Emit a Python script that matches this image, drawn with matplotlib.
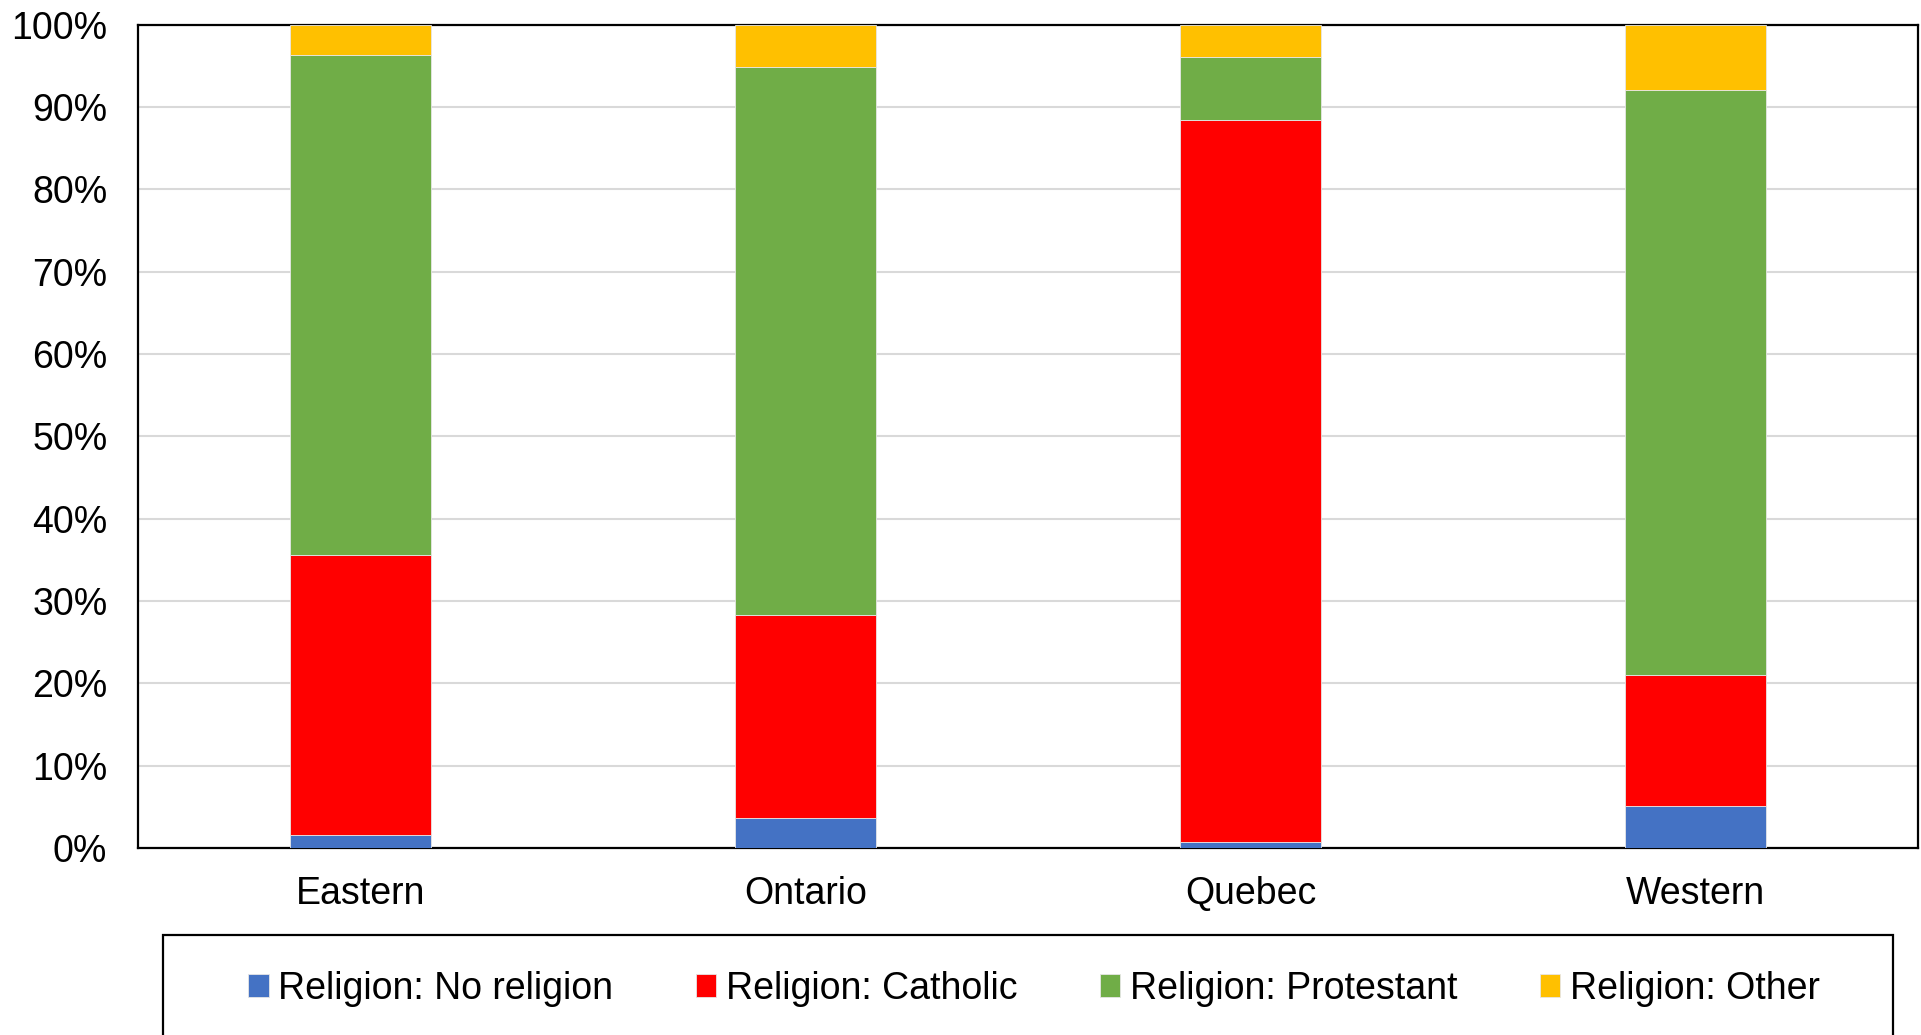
import matplotlib
matplotlib.use('Agg')
import matplotlib.pyplot as plt
from matplotlib.patches import Rectangle
from matplotlib.ticker import PercentFormatter

plt.rcParams['font.family'] = ['Liberation Sans', 'DejaVu Sans']

regions = ['Eastern', 'Ontario', 'Quebec', 'Western']
no_religion = [1.6, 3.6, 0.7, 5.1]
catholic = [34.0, 24.7, 87.7, 15.9]
protestant = [60.7, 66.5, 7.6, 71.0]
other = [3.7, 5.2, 4.0, 8.0]

series = [
    ('Religion: No religion', no_religion, '#4472C4'),
    ('Religion: Catholic', catholic, '#FF0000'),
    ('Religion: Protestant', protestant, '#70AD47'),
    ('Religion: Other', other, '#FFC000'),
]

fig = plt.figure(figsize=(19.21, 10.35), dpi=100)
ax = fig.add_axes([0.0718, 0.1807, 0.9266, 0.7956])

x = range(len(regions))
bottom = [0.0] * len(regions)
for label, vals, color in series:
    ax.bar(x, vals, width=0.317, bottom=bottom, color=color, label=label,
           edgecolor='#e6e6e6', linewidth=0.6, zorder=3)
    bottom = [b + v for b, v in zip(bottom, vals)]

ax.set_xlim(-0.5, len(regions) - 0.5)
ax.set_ylim(0, 100)
ax.set_yticks(range(0, 101, 10))
ax.yaxis.set_major_formatter(PercentFormatter(decimals=0))
ax.set_xticks(list(x))
ax.set_xticklabels(regions)
ax.grid(axis='y', color='#d9d9d9', linewidth=1.5, zorder=0)
ax.tick_params(axis='both', length=0, labelsize=27)
ax.tick_params(axis='y', pad=22)
ax.tick_params(axis='x', pad=20)
for s in ax.spines.values():
    s.set_color('black')
    s.set_linewidth(1.6)

# legend box runs off the bottom edge
box = Rectangle((163 / 1921, -0.05), (1893 - 163) / 1921, 0.05 + (1035 - 935) / 1035,
                transform=fig.transFigure, fill=False, edgecolor='black', linewidth=1.6)
fig.patches.append(box)

fig.legend(loc='center', bbox_to_anchor=(1034 / 1921, 1 - 989 / 1035), ncol=4,
           frameon=False, fontsize=27, handlelength=0.55, handleheight=0.55,
           handletextpad=0.25, columnspacing=2.2)

fig.savefig('out.png', dpi=100)
